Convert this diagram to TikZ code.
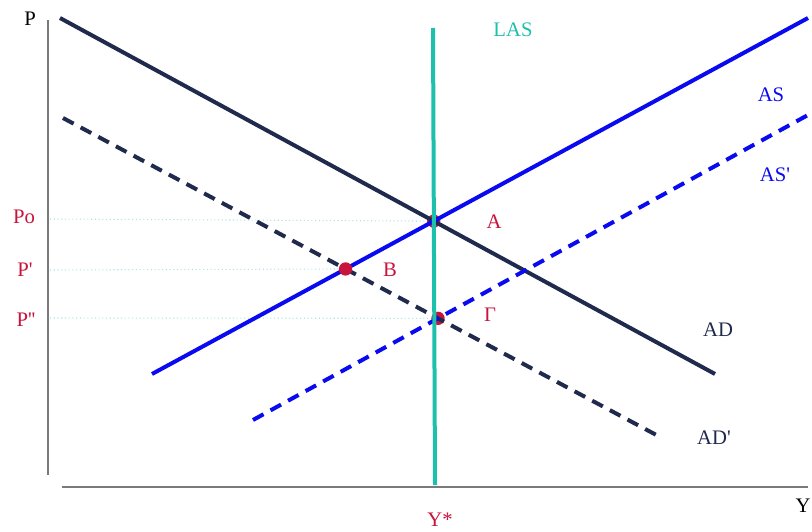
\documentclass[tikz,border=0pt]{standalone}
\usepackage{fontspec}
\setmainfont{Liberation Serif}[Ligatures=TeXOff]
\definecolor{navy}{HTML}{1F2A4C}
\definecolor{asblue}{HTML}{0A0AF0}
\definecolor{lasteal}{HTML}{1CC0AC}
\definecolor{crim}{HTML}{C8143C}
\definecolor{dotcyan}{HTML}{A8E4E4}
\definecolor{axisgray}{HTML}{7A7A7A}
\tikzset{
  axisline/.style={draw=axisgray, line width=1.1pt},
  adline/.style={draw=navy, line width=3pt},
  asline/.style={draw=asblue, line width=3pt},
  lasline/.style={draw=lasteal, line width=3pt},
  dashline/.style={dash pattern=on 9pt off 6pt},
  guide/.style={draw=dotcyan, line width=0.8pt, dotted},
  eqdot/.style={fill=crim, draw=none},
  lblfont/.style={font=\fontsize{15.5pt}{18pt}\selectfont, inner sep=0pt},
  redlbl/.style={lblfont, text=crim},
  navylbl/.style={lblfont, text=navy},
  bluelbl/.style={lblfont, text=asblue},
  teallbl/.style={lblfont, text=lasteal},
  blklbl/.style={lblfont, text=black},
}
\begin{document}
\begin{tikzpicture}[x=0.75pt, y=-0.75pt]
\useasboundingbox (0,0) rectangle (812,531);
% axes
\coordinate (pTop) at (48,20);
\coordinate (pBot) at (48,475);
\coordinate (yLeft) at (62,487);
\coordinate (yRight) at (808,487);
\draw[axisline] (pTop) -- (pBot);
\draw[axisline] (yLeft) -- (yRight);
% curve end points
\coordinate (adS) at (60,18);
\coordinate (adE) at (715,374);
\coordinate (adpS) at (63,118);
\coordinate (adpE) at (662,438);
\coordinate (asS) at (152,374);
\coordinate (asE) at (808,18);
\coordinate (aspS) at (253,420);
\coordinate (aspE) at (808,115);
\coordinate (lasT) at (433,28);
\coordinate (lasB) at (435,485);
% intersections
\coordinate (ptA) at (intersection of adS--adE and asS--asE);
\coordinate (ptB) at (intersection of adpS--adpE and asS--asE);
\coordinate (ptG) at (intersection of adpS--adpE and aspS--aspE);
% guide lines
\coordinate (gA) at (50,219);
\coordinate (gB) at (50,270);
\coordinate (gG) at (50,318);
\draw[guide] (gA) -- (ptA);
\draw[guide] (gB) -- (ptB);
\draw[guide] (gG) -- (ptG);
% dots
\fill[eqdot] (ptA) circle (5pt);
\fill[eqdot] (ptG) circle (5pt);
% curves
\draw[adline] (adS) -- (adE);
\draw[adline, dashline] (adpS) -- (adpE);
\draw[asline] (asS) -- (asE);
\draw[asline, dashline] (aspS) -- (aspE);
\fill[eqdot] (ptB) circle (5pt);
\draw[lasline] (lasT) -- (lasB);
% labels
\node[blklbl] (lP) at (30,19) {P};
\node[blklbl] (lY) at (803,506) {Y};
\node[redlbl] (lYs) at (440,520) {Y*};
\node[teallbl] (lLAS) at (513,30) {LAS};
\node[bluelbl] (lAS) at (771,95) {AS};
\node[bluelbl] (lASp) at (775,175) {AS'};
\node[navylbl] (lAD) at (718,330) {AD};
\node[navylbl] (lADp) at (714,438) {AD'};
\node[redlbl] (lA) at (494,222) {A};
\node[redlbl] (lB) at (390,270) {B};
\node[redlbl] (lG) at (490,315) {Γ};
\node[redlbl] (lPo) at (24,217) {Po};
\node[redlbl] (lPp) at (25,270) {P'};
\node[redlbl] (lPpp) at (26,320) {P''};
\end{tikzpicture}
\end{document}
